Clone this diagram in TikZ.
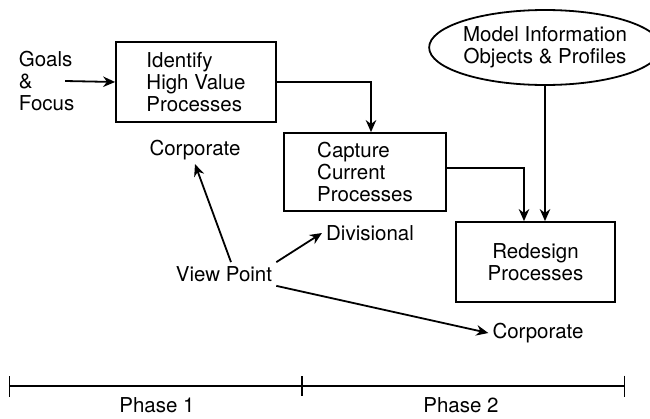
\documentclass[tikz,border=0pt]{standalone}
\usepackage{fontspec}
\setmainfont{TeX Gyre Heros}
\usepackage{tikz}
\usetikzlibrary{arrows.meta,shapes,positioning}

\begin{document}
\begin{tikzpicture}[x=1pt, y=-1pt, >={Stealth[length=12pt,width=10.5pt]}, line width=1.8pt,
    every node/.style={font=\fontsize{20.5}{22}\selectfont, align=left},
    box/.style={draw, rectangle, minimum width=160pt, minimum height=80pt},
    oval/.style={draw, ellipse, minimum width=208pt, minimum height=75pt, inner sep=0pt, align=center}]
    \useasboundingbox (0,0) rectangle (650,418);

    \node[anchor=west, inner sep=0pt] (gf) at (18,81) {Goals\\\&\\Focus};
    \node[box] (b1) at (196,82) {Identify\\High Value\\Processes};
    \node[box, minimum width=162pt, minimum height=78pt] (b2) at (365,172) {Capture\\Current\\Processes};
    \node[box, minimum width=159pt, align=center] (b3) at (535.5,262) {Redesign\\Processes};
    \node[oval] (m) at (545,47.5) {Model Information\\Objects \& Profiles};

    \node (c1) at (195,150) {Corporate};
    \node (vp) at (224,274) {View Point};
    \node (dv) at (370,233) {Divisional};
    \node (c2) at (538,333) {Corporate};

    \draw[->] ([xshift=-10pt]gf.east) -- (b1.west);
    \draw[->] (b1.east) -| ([xshift=6pt]b2.north);
    \draw[->] ([yshift=4pt]b2.east) -| ([xshift=-11.5pt]b3.north);
    \draw[->] (m.south) -- (m.south |- b3.north);

    \path[->] ([xshift=7pt]vp.north) edge (c1.south);
    \path[->] (vp.north east) edge (dv.west);
    \path[->] (vp.south east) edge (c2.west);

    % time line
    \coordinate (t0) at (9,386);
    \coordinate (t1) at (302,386);
    \coordinate (t2) at (625,386);
    \draw[line width=1.3pt, {Bar[width=21pt]}-{Bar[width=21pt]}] (t0) -- (t2);
    \draw[line width=1.3pt] ([yshift=10pt]t1) -- ([yshift=-10pt]t1);
    \node (ph1) at (157,405) {Phase 1};
    \node (ph2) at (461,405) {Phase 2};
\end{tikzpicture}
\end{document}
